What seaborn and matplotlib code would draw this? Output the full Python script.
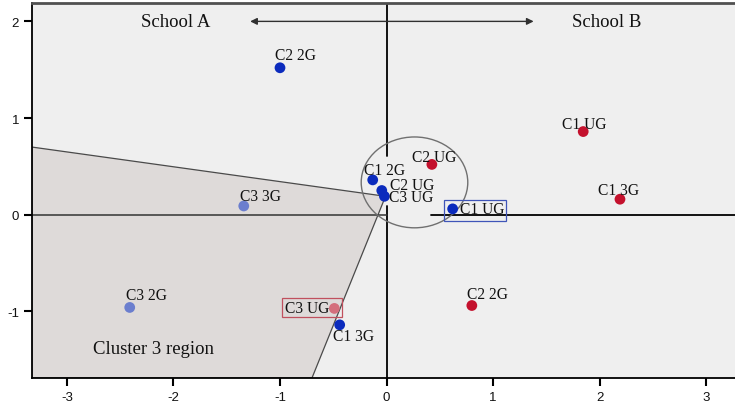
import numpy as np
import pandas as pd
import matplotlib
matplotlib.use("Agg")
import matplotlib.pyplot as plt
from matplotlib.patches import Polygon, Ellipse, Rectangle
import seaborn as sns

# Category points on the two correspondence dimensions
point_labels = ["C2 2G", "C3 3G", "C3 2G", "C3 UG", "C1 3G", "C1 2G", "C2 UG",
                "C3 UG", "C1 UG", "C1 UG", "C1 3G", "C2 UG", "C2 2G"]
dim1 = [-1.00, -1.34, -2.41, -0.49, -0.44, -0.13, -0.045,
        -0.02, 0.62, 1.845, 2.19, 0.425, 0.80]
dim2 = [1.52, 0.09, -0.96, -0.97, -1.14, 0.36, 0.25,
        0.19, 0.06, 0.86, 0.16, 0.52, -0.94]
group = ["School A", "Cluster A", "Cluster A", "Cluster B", "School A", "School A",
         "School A", "School A", "School A", "School B", "School B", "School B",
         "School B"]

x_ticks = [-3, -2, -1, 0, 1, 2, 3]
y_ticks = [-1, 0, 1, 2]

palette = {"School A": "#0b2bbd", "School B": "#c4112d",
           "Cluster A": "#6b7ece", "Cluster B": "#d46f7c"}

# label placement: (dx, dy) in pixels from the point, horizontal alignment
label_offsets = [(-5, 9, "left"), (-4, 6, "left"), (-4, 8, "left"), (-5, -4, "right"),
                 (-7, -15, "left"), (-9, 6, "left"), (8, 2, "left"), (5, -5, "left"),
                 (7, -4, "left"), (-21, 4, "left"), (-22, 5, "left"), (-20, 3, "left"),
                 (-5, 8, "left")]

df = pd.DataFrame({"dim1": dim1, "dim2": dim2, "group": group, "label": point_labels})

sns.set_style("ticks")
plt.rcParams["font.family"] = ["Liberation Sans", "DejaVu Sans"]
plt.rcParams["axes.unicode_minus"] = False

fig = plt.figure(figsize=(7.35, 4.06), dpi=100)
ax = fig.add_axes([0.0431, 0.0665, 0.957, 0.9236])

xlim = (-3.33, 3.27)
ylim = (-1.69, 2.19)
ax.set_xlim(*xlim)
ax.set_ylim(*ylim)
ax.set_facecolor("#efefef")

# shaded cluster 3 region
apex = (-0.01, 0.19)
region = Polygon([(xlim[0], 0.70), apex, (-0.70, ylim[0]), (xlim[0], ylim[0])],
                 closed=True, facecolor="#dedad9", edgecolor="#4a4a4a", lw=0.9, zorder=1)
ax.add_patch(region)

# reference axes through the origin
ax.plot([0, 0], [0.61, ylim[1]], color="black", lw=1.3, zorder=2)
ax.plot([0, 0], [ylim[0], 0.09], color="black", lw=1.3, zorder=2)
ax.plot([xlim[0], 0], [0, 0], color="#333333", lw=1.1, zorder=2)
ax.plot([0.42, xlim[1]], [0, 0], color="black", lw=1.3, zorder=2)

# grouping ellipse around the central categories
ax.add_patch(Ellipse((0.262, 0.334), 1.0, 0.94, fill=False, edgecolor="#707070",
                     lw=1.0, zorder=3))

sns.scatterplot(data=df, x="dim1", y="dim2", hue="group", palette=palette,
                s=60, edgecolor="none", legend=False, ax=ax, zorder=5)

for (lx, ly, txt), (dx, dy, ha) in zip(zip(dim1, dim2, point_labels), label_offsets):
    ax.annotate(txt, (lx, ly), xytext=(dx, dy), textcoords="offset pixels",
                ha=ha, va="baseline", fontsize=11.2, family="Liberation Serif",
                color="#111111", zorder=6)

# highlight boxes around two categories
i_blue = 8
ax.add_patch(Rectangle((dim1[i_blue] - 0.08, dim2[i_blue] - 0.128), 0.578, 0.223,
                       fill=False, edgecolor="#3f55b8", lw=0.9, zorder=6))
i_pink = 3
ax.add_patch(Rectangle((dim1[i_pink] - 0.489, dim2[i_pink] - 0.087), 0.561, 0.191,
                       fill=False, edgecolor="#c0505e", lw=0.9, zorder=6))

# school direction arrow and annotations
ax.annotate("", xy=(-1.28, 2.0), xytext=(1.38, 2.0),
            arrowprops=dict(arrowstyle="<|-|>", color="#303030", lw=1.0,
                            mutation_scale=10, shrinkA=0, shrinkB=0), zorder=6)
ax.text(-1.98, 2.0, "School A", ha="center", va="center", fontsize=13.5,
        family="Liberation Serif", color="#111111")
ax.text(2.07, 2.0, "School B", ha="center", va="center", fontsize=13.5,
        family="Liberation Serif", color="#111111")
ax.text(-2.75, -1.38, "Cluster 3 region", ha="left", va="center", fontsize=13.5,
        family="Liberation Serif", color="#111111")

ax.set_xticks(x_ticks)
ax.set_yticks(y_ticks)
ax.set_xlabel("")
ax.set_ylabel("")
ax.tick_params(direction="out", length=6, width=1.5, color="black",
               labelsize=9.5, labelcolor="#111111", pad=3)

for side in ["left", "bottom"]:
    ax.spines[side].set_color("black")
    ax.spines[side].set_linewidth(1.3)
ax.spines["right"].set_visible(False)
ax.spines["top"].set_visible(True)
ax.spines["top"].set_color("#505050")
ax.spines["top"].set_linewidth(2.0)

fig.savefig("out.png", dpi=100, facecolor="white")
